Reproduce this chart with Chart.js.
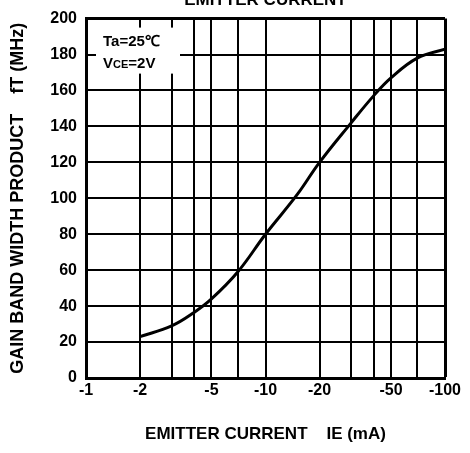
<!DOCTYPE html>
<html>
<head>
<meta charset="utf-8">
<script src="https://cdn.jsdelivr.net/npm/chart.js@4.4.0/dist/chart.umd.min.js"></script>
<style>
  html, body { margin: 0; padding: 0; background: #fff; }
  #wrap { width: 470px; height: 453px; }
</style>
</head>
<body>
<div id="wrap"><canvas id="ftChart"></canvas></div>
<script>
// emitter current (mA, magnitude) and gain band width product (MHz)
const currents = [2, 3, 4, 5, 7, 10, 15, 20, 30, 40, 50, 70, 100];
const ftValues = [23, 29, 36.5, 44, 59, 80, 102, 120, 142, 157, 167, 178, 183];

// grid lines on the log axis and which of them get a label
const xGrid = [1, 2, 3, 4, 5, 7, 10, 20, 30, 40, 50, 70, 100];
const xLabeled = [1, 2, 5, 10, 20, 50, 100];
const yTicks = [0, 20, 40, 60, 80, 100, 120, 140, 160, 180, 200];

const FONT = "'Liberation Sans', Arial, sans-serif";

// condition box + clipped heading
const notes = {
  id: "notes",
  beforeDatasetsDraw(chart) {
    const c = chart.ctx;
    const a = chart.chartArea;
    c.save();
    c.fillStyle = "#fff";
    c.fillRect(a.left + 10, a.top + 9, 84, 46);
    c.fillStyle = "#000";
    c.textBaseline = "alphabetic";
    c.font = "bold 15px " + FONT;
    c.fillText("Ta=25\u2103", a.left + 17, a.top + 27);
    c.fillText("V", a.left + 17, a.top + 49);
    let w = c.measureText("V").width;
    c.font = "bold 11px " + FONT;
    c.fillText("CE", a.left + 17 + w, a.top + 49);
    w += c.measureText("CE").width;
    c.font = "bold 15px " + FONT;
    c.fillText("=2V", a.left + 17 + w, a.top + 49);
    c.textAlign = "center";
    c.font = "bold 17px " + FONT;
    c.fillText("EMITTER CURRENT", (a.left + a.right) / 2, 5);
    c.restore();
  },
};

const ctx = document.getElementById("ftChart").getContext("2d");

let ftChart = new Chart(ctx, {
  type: "line",
  data: {
    labels: currents,
    datasets: [
      {
        data: currents.map((x, i) => ({ x: x, y: ftValues[i] })),
        borderColor: "#000",
        borderWidth: 3,
        pointRadius: 0,
        tension: 0.4,
        fill: false,
      },
    ],
  },
  options: {
    responsive: true,
    maintainAspectRatio: false,
    animation: false,
    layout: { padding: { top: 18, right: 25, left: 0, bottom: 0 } },
    plugins: {
      legend: { display: false },
      tooltip: { enabled: false },
    },
    scales: {
      x: {
        type: "logarithmic",
        min: 1,
        max: 100,
        afterBuildTicks: (scale) => {
          scale.ticks = xGrid.map((v) => ({ value: v }));
        },
        afterFit: (scale) => {
          scale.height = 75;
        },
        ticks: {
          autoSkip: false,
          maxRotation: 0,
          padding: 3,
          color: "#000",
          font: { family: FONT, size: 16, weight: "bold" },
          callback: (v) => (xLabeled.includes(v) ? "-" + v : ""),
        },
        grid: {
          color: "#000",
          lineWidth: (c) => (c.tick && c.tick.value === 100 ? 3 : 2),
          drawTicks: false,
        },
        border: { color: "#000", width: 3 },
        title: {
          display: true,
          text: "EMITTER CURRENT    IE (mA)",
          color: "#000",
          font: { family: FONT, size: 17, weight: "bold" },
          padding: { top: 0, bottom: 8 },
        },
      },
      y: {
        min: 0,
        max: 200,
        afterBuildTicks: (scale) => {
          scale.ticks = yTicks.map((v) => ({ value: v }));
        },
        afterFit: (scale) => {
          scale.width = 86;
        },
        ticks: {
          padding: 9,
          color: "#000",
          font: { family: FONT, size: 16, weight: "bold" },
        },
        grid: {
          color: "#000",
          lineWidth: (c) => (c.tick && c.tick.value === 200 ? 3 : 2),
          drawTicks: false,
        },
        border: { color: "#000", width: 3 },
        title: {
          display: true,
          text: "GAIN BAND WIDTH PRODUCT    fT (MHz)",
          color: "#000",
          font: { family: FONT, size: 18, weight: "bold" },
          padding: { top: 7, bottom: 0 },
        },
      },
    },
  },
  plugins: [notes],
});
</script>
</body>
</html>
